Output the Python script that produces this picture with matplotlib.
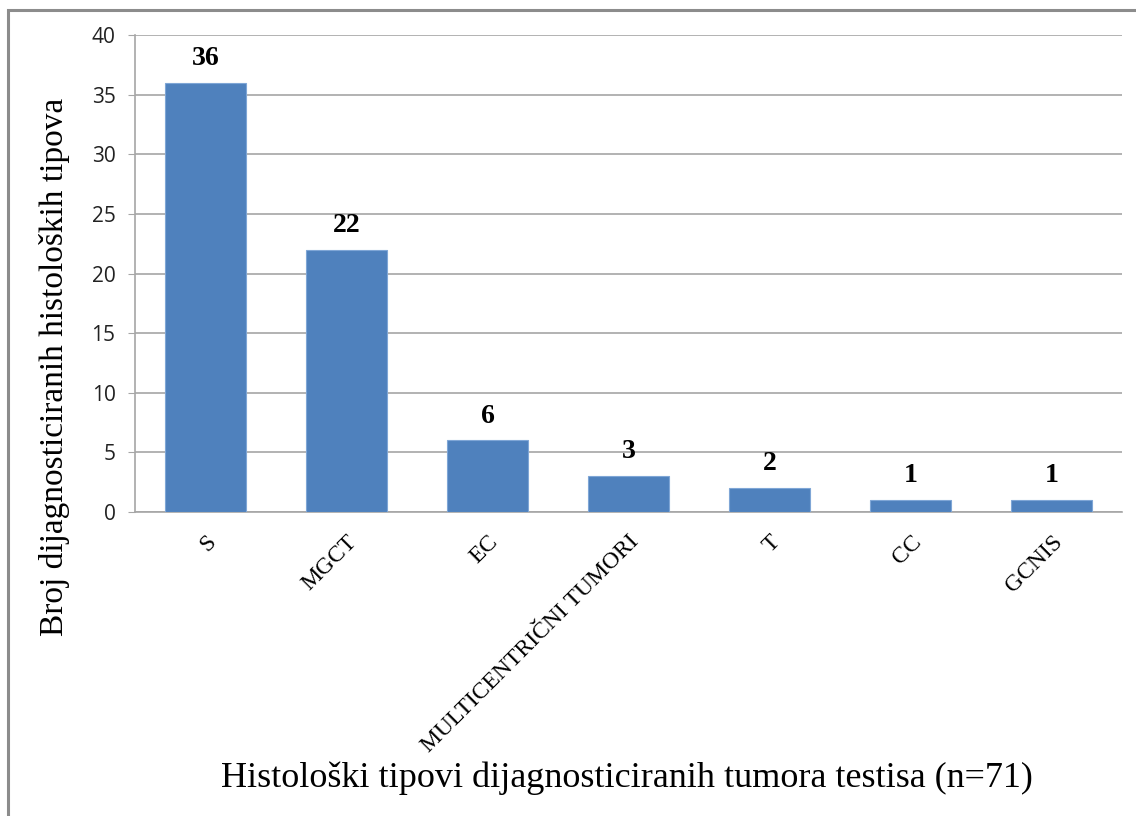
import matplotlib.pyplot as plt
from matplotlib.patches import Rectangle

categories = ["S", "MGCT", "EC", "MULTICENTRIČNI TUMORI", "T", "CC", "GCNIS"]
counts     = [36, 22, 6, 3, 2, 1, 1]
y_ticks    = [0, 5, 10, 15, 20, 25, 30, 35, 40]

BAR   = "#4F81BD"
GRID  = "#a6a6a6"
SERIF = ["Liberation Serif", "DejaVu Serif"]
SANS  = ["Open Sans", "DejaVu Sans"]

fig = plt.figure(figsize=(11.36, 8.16), dpi=100)
fig.patch.set_facecolor("white")

# outer chart border (Excel style, clipped by the image edge right/bottom)
fig.patches.append(Rectangle((8 / 1136, -0.1), 1.2, 1 - 10 / 816 + 0.1,
                             transform=fig.transFigure, fill=False,
                             edgecolor="#8c8c8c", linewidth=2.2))

ax = fig.add_axes([135 / 1136, 1 - 512 / 816, (1122 - 135) / 1136, (512 - 35) / 816])

x = range(len(categories))
ax.bar(x, counts, width=0.57, color=BAR, edgecolor="#7fa6d6", linewidth=0.8, zorder=3)

for i, v in enumerate(counts):
    ax.text(i, v + 1.0, str(v), ha="center", va="bottom",
            fontsize=20, fontweight="bold", family=SERIF, color="black")

ax.set_xlim(-0.5, len(categories) - 0.5)
ax.set_ylim(0, 40)
ax.set_yticks(y_ticks)
ax.set_yticklabels([str(t) for t in y_ticks], family=SANS, fontsize=15, color="#222222")
ax.grid(axis="y", color=GRID, linewidth=1.2, zorder=0)

ax.set_xticks(list(x))
ax.set_xticklabels(categories, rotation=45, ha="right", rotation_mode="anchor",
                   family=SERIF, fontsize=17)
ax.tick_params(axis="x", length=0, pad=14)
ax.tick_params(axis="y", length=5, color=GRID, pad=9)

for side in ["top", "right"]:
    ax.spines[side].set_visible(False)
ax.spines["left"].set_color(GRID)
ax.spines["bottom"].set_color(GRID)
ax.spines["left"].set_linewidth(1.2)
ax.spines["bottom"].set_linewidth(1.2)

fig.text(55 / 1136, 1 - 367 / 816, "Broj dijagnosticiranih histoloških tipova",
         rotation=90, ha="center", va="center", family=SERIF, fontsize=24)
fig.text(627 / 1136, 1 - 778 / 816,
         "Histološki tipovi dijagnosticiranih tumora testisa (n=71)",
         ha="center", va="center", family=SERIF, fontsize=26)

fig.savefig("out.png", dpi=100, facecolor="white")
